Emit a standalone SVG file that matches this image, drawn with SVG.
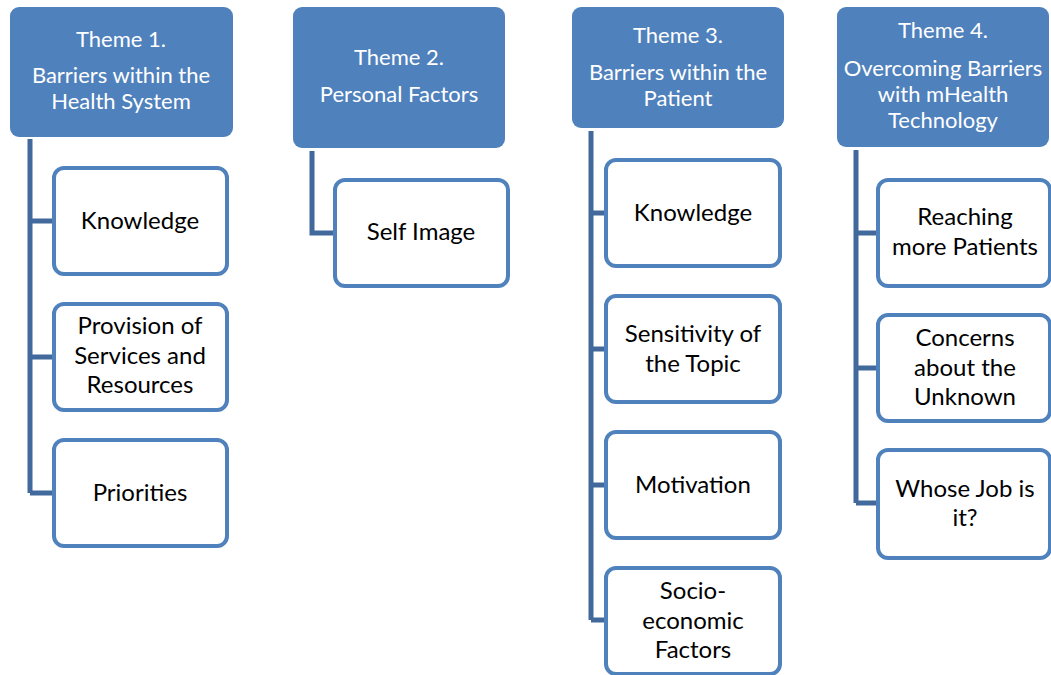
<svg xmlns="http://www.w3.org/2000/svg" width="1051" height="675" viewBox="0 0 1051 675">
  <style>
    .head { fill: #4F81BD; }
    .head-text { fill: #FFFFFF; font-family: Lato, "Open Sans", sans-serif; font-size: 22px; text-anchor: middle; }
    .item { fill: #FFFFFF; stroke: #4F81BD; stroke-width: 4; }
    .item-text { fill: #000000; font-family: Lato, "Open Sans", sans-serif; font-size: 24px; text-anchor: middle; }
    .link { fill: none; stroke: #41699B; stroke-width: 5; stroke-linejoin: miter; }
  </style>
  <rect width="1051" height="675" fill="#FFFFFF"/>

  <!-- tree connectors -->
  <g id="connectors">
    <path class="link" d="M30 139 V493 M30 221 H54 M30 357 H54 M30 493 H54"/>
    <path class="link" d="M312 151 V233 H335"/>
    <path class="link" d="M591 131 V620 M591 213 H606 M591 349 H606 M591 485 H606 M591 620 H606"/>
    <path class="link" d="M856 150 V503 M856 233 H878 M856 368 H878 M856 503 H878"/>
  </g>

  <!-- Theme 1 -->
  <g id="theme1">
    <rect class="head" x="10" y="7" width="223" height="130" rx="9"/>
    <text class="head-text" x="121" y="47">Theme 1.</text>
    <text class="head-text" x="121" y="83">Barriers within the</text>
    <text class="head-text" x="121" y="109">Health System</text>
  </g>
  <g id="t1-knowledge">
    <rect class="item" x="54" y="168" width="173" height="106" rx="10"/>
    <text class="item-text" x="140" y="229">Knowledge</text>
  </g>
  <g id="t1-provision">
    <rect class="item" x="54" y="304" width="173" height="106" rx="10"/>
    <text class="item-text" x="140" y="334">Provision of</text>
    <text class="item-text" x="140" y="364">Services and</text>
    <text class="item-text" x="140" y="393">Resources</text>
  </g>
  <g id="t1-priorities">
    <rect class="item" x="54" y="440" width="173" height="106" rx="10"/>
    <text class="item-text" x="140" y="501">Priorities</text>
  </g>

  <!-- Theme 2 -->
  <g id="theme2">
    <rect class="head" x="293" y="7" width="212" height="141" rx="9"/>
    <text class="head-text" x="399" y="65">Theme 2.</text>
    <text class="head-text" x="399" y="102">Personal Factors</text>
  </g>
  <g id="t2-selfimage">
    <rect class="item" x="335" y="180" width="173" height="106" rx="10"/>
    <text class="item-text" x="421" y="240">Self Image</text>
  </g>

  <!-- Theme 3 -->
  <g id="theme3">
    <rect class="head" x="572" y="7" width="212" height="121" rx="9"/>
    <text class="head-text" x="678" y="43">Theme 3.</text>
    <text class="head-text" x="678" y="80">Barriers within the</text>
    <text class="head-text" x="678" y="106">Patient</text>
  </g>
  <g id="t3-knowledge">
    <rect class="item" x="606" y="160" width="174" height="106" rx="10"/>
    <text class="item-text" x="693" y="221">Knowledge</text>
  </g>
  <g id="t3-sensitivity">
    <rect class="item" x="606" y="296" width="174" height="106" rx="10"/>
    <text class="item-text" x="693" y="342">Sensitivity of</text>
    <text class="item-text" x="693" y="372">the Topic</text>
  </g>
  <g id="t3-motivation">
    <rect class="item" x="606" y="432" width="174" height="106" rx="10"/>
    <text class="item-text" x="693" y="493">Motivation</text>
  </g>
  <g id="t3-socioeconomic">
    <rect class="item" x="606" y="568" width="174" height="106" rx="10"/>
    <text class="item-text" x="693" y="599">Socio-</text>
    <text class="item-text" x="693" y="629">economic</text>
    <text class="item-text" x="693" y="658">Factors</text>
  </g>

  <!-- Theme 4 -->
  <g id="theme4">
    <rect class="head" x="837" y="7" width="212" height="140" rx="9"/>
    <text class="head-text" x="943" y="38">Theme 4.</text>
    <text class="head-text" x="943" y="76">Overcoming Barriers</text>
    <text class="head-text" x="943" y="102">with mHealth</text>
    <text class="head-text" x="943" y="128">Technology</text>
  </g>
  <g id="t4-reaching">
    <rect class="item" x="878" y="180" width="172" height="106" rx="10"/>
    <text class="item-text" x="965" y="225">Reaching</text>
    <text class="item-text" x="965" y="255">more Patients</text>
  </g>
  <g id="t4-concerns">
    <rect class="item" x="878" y="315" width="172" height="106" rx="10"/>
    <text class="item-text" x="965" y="346">Concerns</text>
    <text class="item-text" x="965" y="376">about the</text>
    <text class="item-text" x="965" y="405">Unknown</text>
  </g>
  <g id="t4-whosejob">
    <rect class="item" x="878" y="450" width="172" height="108" rx="10"/>
    <text class="item-text" x="965" y="497">Whose Job is</text>
    <text class="item-text" x="965" y="526">it?</text>
  </g>
</svg>
